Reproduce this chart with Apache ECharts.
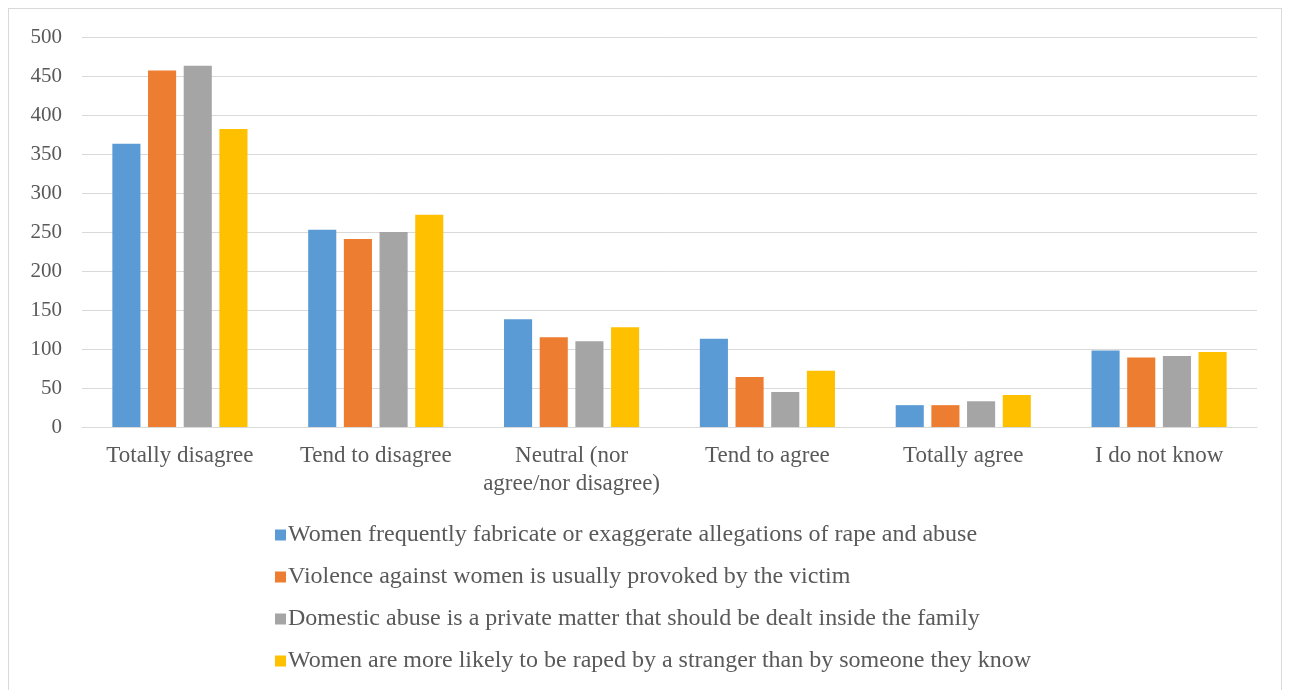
<!DOCTYPE html>
<html>
<head>
<meta charset="utf-8">
<script src="https://cdn.jsdelivr.net/npm/echarts@6/dist/echarts.min.js"></script>
<style>
  html, body { margin: 0; padding: 0; background: #fff; }
  #frame { position: absolute; left: 8px; top: 8px; width: 1274px; height: 690px; border: 1px solid #d9d9d9; box-sizing: border-box; }
  #chart { position: absolute; left: 0; top: 0; width: 1291px; height: 690px; }
</style>
</head>
<body>
<div id="frame"></div>
<div id="chart"></div>
<script>
// Response categories
const categories = ['Totally disagree', 'Tend to disagree', 'Neutral (nor\nagree/nor disagree)', 'Tend to agree', 'Totally agree', 'I do not know'];

// Statements (series names)
const seriesNames = [
  'Women frequently fabricate or exaggerate allegations of rape and abuse',
  'Violence against women is usually provoked by the victim',
  'Domestic abuse is a private matter that should be dealt inside the family',
  'Women are more likely to be raped by a stranger than by someone they know'
];

// Number of respondents per response
const fabricateValues = [363, 253, 138, 113, 28, 98];
const provokedValues = [457, 241, 115, 64, 28, 89];
const privateValues = [463, 250, 110, 45, 33, 91];
const strangerValues = [382, 272, 128, 72, 41, 96];

const yTicks = [0, 50, 100, 150, 200, 250, 300, 350, 400, 450, 500];

const colors = ['#5B9BD5', '#ED7D31', '#A5A5A5', '#FFC000'];
const valueSets = [fabricateValues, provokedValues, privateValues, strangerValues];

const font = '"Liberation Serif", "Times New Roman", serif';

const chart = echarts.init(document.getElementById('chart'));
chart.setOption({
  animation: false,
  color: colors,
  grid: { left: 82, right: 34, top: 37, bottom: 263, containLabel: false },
  xAxis: {
    type: 'category',
    data: categories,
    axisLine: { lineStyle: { color: '#d9d9d9', width: 1 } },
    axisTick: { show: false },
    axisLabel: { color: '#595959', fontFamily: font, fontSize: 23, lineHeight: 28, margin: 15, interval: 0 }
  },
  yAxis: {
    type: 'value',
    min: yTicks[0],
    max: yTicks[yTicks.length - 1],
    interval: 50,
    axisLine: { show: false },
    axisTick: { show: false },
    splitLine: { lineStyle: { color: '#d9d9d9', width: 1 } },
    axisLabel: { color: '#595959', fontFamily: font, fontSize: 21, margin: 20 }
  },
  legend: {
    orient: 'vertical',
    left: 270,
    top: 518,
    itemGap: 18,
    itemWidth: 11,
    itemHeight: 11,
    icon: 'rect',
    textStyle: { color: '#595959', fontFamily: font, fontSize: 24, lineHeight: 24, padding: [0, 0, 0, -3] },
    data: seriesNames
  },
  series: seriesNames.map((name, i) => ({
    name: name,
    type: 'bar',
    data: valueSets[i],
    barGap: '27%',
    barCategoryGap: '31%',
    itemStyle: { color: colors[i] }
  }))
});
</script>
</body>
</html>
